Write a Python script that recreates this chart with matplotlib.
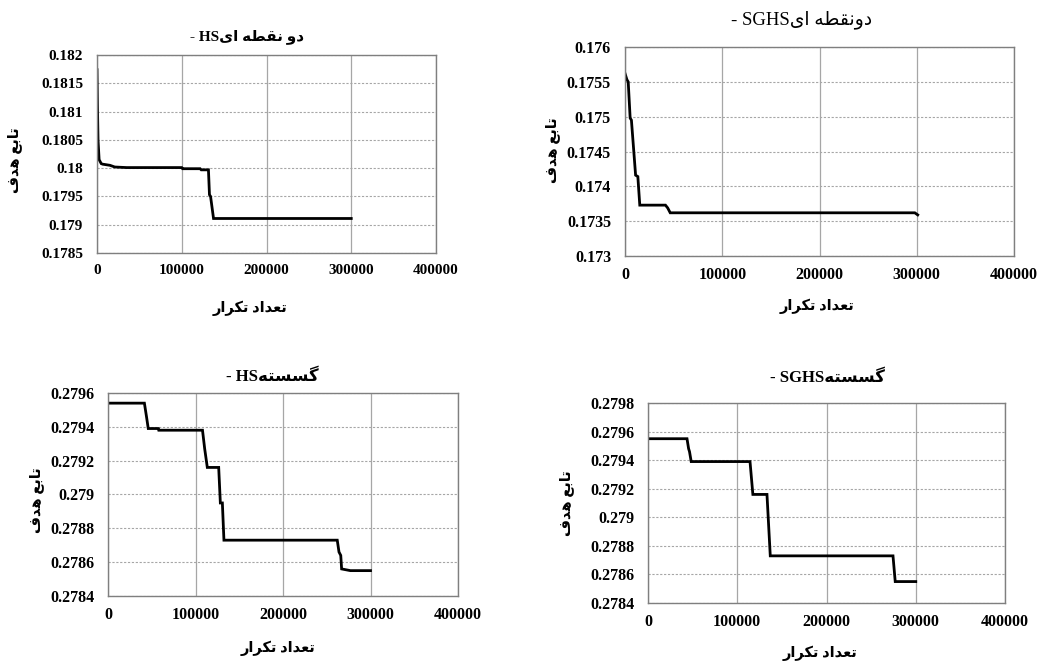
import matplotlib
matplotlib.use('Agg')
import matplotlib.pyplot as plt

plt.rcParams['font.family'] = ['Liberation Serif', 'DejaVu Sans']

# Persian words written in presentation forms, visual (left-to-right) order
w_tabe = '\uFECA\uFE91\uFE8E\uFE97'          # تابع
w_hadaf = '\uFED1\uFEAA\uFEEB'               # هدف
w_tedad = '\uFEA9\uFE8D\uFEAA\uFECC\uFE97'   # تعداد
w_tekrar = '\uFEAD\uFE8D\uFEAE\uFB91\uFE97'  # تکرار
w_do = '\uFEED\uFEA9'                        # دو
w_noghte = '\uFEEA\uFEC4\uFED8\uFEE7'        # نقطه
w_ei = '\uFEEF\uFE8D'                        # ای
w_gosasteh = '\uFEEA\uFE98\uFEB4\uFEB4\uFB94'  # گسسته

ylabel_text = w_hadaf + ' ' + w_tabe
xlabel_text = w_tekrar + ' ' + w_tedad

titles = ['- HS' + w_ei + ' ' + w_noghte + ' ' + w_do,
          '- SGHS' + w_ei + ' ' + w_noghte + w_do,
          '- HS' + w_gosasteh,
          '- SGHS' + w_gosasteh]

# data
hs2_x = [0, 500, 1200, 2500, 5000, 6700, 15300, 21000, 35000, 100000, 101000,
         121700, 123000, 131500, 132700, 134000, 137500, 300000]
hs2_y = [0.18174, 0.18112, 0.18050, 0.18015, 0.18008, 0.18007, 0.18005, 0.18002,
         0.18001, 0.18001, 0.17999, 0.17999, 0.17997, 0.17997, 0.17953, 0.17950,
         0.17911, 0.17911]

sghs2_x = [0, 2000, 3300, 5300, 6600, 10900, 13200, 15200, 41600, 43900, 46500,
           298000, 301000]
sghs2_y = [0.17562, 0.17553, 0.17550, 0.17498, 0.17495, 0.17416, 0.17414, 0.17373,
           0.17373, 0.17369, 0.17362, 0.17362, 0.17359]

hsd_x = [0, 41600, 44000, 46000, 57500, 58000, 84000, 84500, 108000, 110500, 113500,
         126500, 128400, 130700, 132500, 262000, 264000, 266000, 267000, 277000, 300000]
hsd_y = [0.27954, 0.27954, 0.27946, 0.27939, 0.27939, 0.27938, 0.27938, 0.27938,
         0.27938, 0.27927, 0.27916, 0.27916, 0.27895, 0.27895, 0.27873, 0.27873,
         0.27866, 0.27864, 0.27856, 0.27855, 0.27855]

sghsd_x = [0, 43700, 45500, 46500, 48400, 114300, 117500, 133300, 137000, 274500,
           277000, 300000]
sghsd_y = [0.27955, 0.27955, 0.27948, 0.27946, 0.27939, 0.27939, 0.27916, 0.27916,
           0.27873, 0.27873, 0.27855, 0.27855]

x_ticks = [0, 100000, 200000, 300000, 400000]
x_labels = ['0', '100000', '200000', '300000', '400000']

y_ticks = [[0.1785, 0.179, 0.1795, 0.18, 0.1805, 0.181, 0.1815, 0.182],
           [0.173, 0.1735, 0.174, 0.1745, 0.175, 0.1755, 0.176],
           [0.2784, 0.2786, 0.2788, 0.279, 0.2792, 0.2794, 0.2796],
           [0.2784, 0.2786, 0.2788, 0.279, 0.2792, 0.2794, 0.2796, 0.2798]]
y_labels = [['0.1785', '0.179', '0.1795', '0.18', '0.1805', '0.181', '0.1815', '0.182'],
            ['0.173', '0.1735', '0.174', '0.1745', '0.175', '0.1755', '0.176'],
            ['0.2784', '0.2786', '0.2788', '0.279', '0.2792', '0.2794', '0.2796'],
            ['0.2784', '0.2786', '0.2788', '0.279', '0.2792', '0.2794', '0.2796', '0.2798']]

series = [(hs2_x, hs2_y), (sghs2_x, sghs2_y), (hsd_x, hsd_y), (sghsd_x, sghsd_y)]

W, H = 1057, 664
fig = plt.figure(figsize=(W / 100, H / 100), dpi=100)

# panel boxes in pixels: left, top, right, bottom
boxes = [(97, 55, 436, 253), (625, 47, 1014, 256), (108, 393, 458, 596), (648, 403, 1005, 603)]
title_pos = [(247, 37), (802, 20), (272, 377), (827, 378)]
title_style = [('bold', 11), ('normal', 13.5), ('bold', 12), ('bold', 12)]
xlab_pos = [(250, 308), (817, 306), (278, 648), (820, 653)]
ylab_pos = [(15, 160), (553, 150), (37, 500), (567, 503)]
tick_fs = [11, 11.5, 11.5, 11.5]

for i in range(4):
    l, t, r, b = boxes[i]
    ax = fig.add_axes([l / W, 1 - b / H, (r - l) / W, (b - t) / H])
    x, y = series[i]
    ax.plot(x, y, color='black', lw=2, solid_joinstyle='miter')
    ax.set_xlim(0, 400000)
    ax.set_ylim(y_ticks[i][0], y_ticks[i][-1])
    ax.set_xticks(x_ticks)
    ax.set_xticklabels(x_labels)
    ax.set_yticks(y_ticks[i])
    ax.set_yticklabels(y_labels[i])
    ax.tick_params(length=0, labelsize=tick_fs[i])
    ax.tick_params(axis='x', pad=8)
    ax.tick_params(axis='y', pad=10)
    for lab in ax.get_xticklabels() + ax.get_yticklabels():
        lab.set_fontweight('bold')
    ax.grid(axis='x', color='#a6a6a6', lw=0.9, ls='-')
    ax.grid(axis='y', color='#a6a6a6', lw=0.8, ls=(0, (2, 1.5)))
    ax.set_axisbelow(True)
    for s in ax.spines.values():
        s.set_color('#7f7f7f')
        s.set_linewidth(1)

    wt, fs = title_style[i]
    fig.text(title_pos[i][0] / W, 1 - title_pos[i][1] / H, titles[i],
             ha='center', va='center', fontsize=fs, fontweight=wt)
    fig.text(xlab_pos[i][0] / W, 1 - xlab_pos[i][1] / H, xlabel_text,
             ha='center', va='center', fontsize=10.5, fontweight='bold')
    fig.text(ylab_pos[i][0] / W, 1 - ylab_pos[i][1] / H, ylabel_text,
             ha='center', va='center', fontsize=10.5, fontweight='bold', rotation=90)

fig.savefig('out.png', dpi=100, facecolor='white')
